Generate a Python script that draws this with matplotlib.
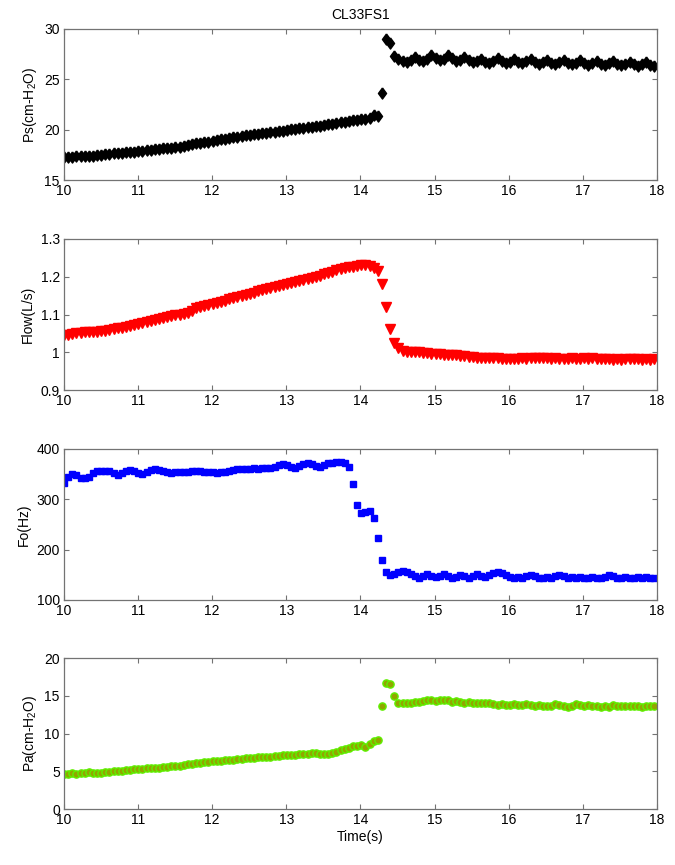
import numpy as np
from matplotlib import pyplot as plt

plt.rcParams['font.family'] = ['Liberation Sans', 'DejaVu Sans']
plt.rcParams['mathtext.default'] = 'regular'

# sampled signals, ~18 samples per second starting at 10 s
dt = 0.0557

ps = [17.3, 17.3, 17.3, 17.35, 17.35, 17.4, 17.4, 17.4, 17.45, 17.5,
      17.55, 17.6, 17.65, 17.7, 17.7, 17.75, 17.8, 17.8, 17.85, 17.9,
      17.95, 18.0, 18.05, 18.1, 18.15, 18.2, 18.2, 18.25, 18.3, 18.4,
      18.5, 18.6, 18.65, 18.7, 18.75, 18.8, 18.9, 19.0, 19.05, 19.1,
      19.2, 19.25, 19.3, 19.4, 19.45, 19.5, 19.55, 19.6, 19.65, 19.7,
      19.75, 19.8, 19.85, 19.9, 20.0, 20.05, 20.1, 20.15, 20.2, 20.25,
      20.3, 20.35, 20.4, 20.5, 20.55, 20.6, 20.7, 20.75, 20.8, 20.9,
      20.95, 21.0, 21.05, 21.1, 21.2, 21.45, 21.35, 23.6, 29.0, 28.6,
      27.3, 27.0, 26.8, 26.7, 26.9, 27.2, 26.9, 26.8, 27.0, 27.4,
      27.1, 26.9, 27.0, 27.4, 27.1, 26.8, 26.9, 27.2, 26.9, 26.7,
      26.8, 27.0, 26.7, 26.6, 26.8, 27.1, 26.8, 26.6, 26.7, 27.0,
      26.7, 26.6, 26.8, 27.0, 26.7, 26.5, 26.7, 26.9, 26.6, 26.5,
      26.7, 26.9, 26.6, 26.5, 26.6, 26.9, 26.6, 26.4, 26.6, 26.8,
      26.5, 26.4, 26.6, 26.8, 26.5, 26.4, 26.5, 26.7, 26.5, 26.3,
      26.5, 26.7, 26.4, 26.3]

flow = [1.045, 1.047, 1.049, 1.050, 1.052, 1.053, 1.054, 1.054, 1.055, 1.056,
        1.057, 1.059, 1.061, 1.063, 1.065, 1.067, 1.069, 1.071, 1.074, 1.077,
        1.079, 1.082, 1.085, 1.088, 1.090, 1.093, 1.096, 1.098, 1.100, 1.102,
        1.105, 1.110, 1.116, 1.120, 1.123, 1.126, 1.128, 1.131, 1.134, 1.137,
        1.140, 1.143, 1.146, 1.149, 1.152, 1.155, 1.158, 1.161, 1.164, 1.167,
        1.170, 1.173, 1.176, 1.178, 1.180, 1.183, 1.186, 1.189, 1.191, 1.194,
        1.197, 1.200, 1.203, 1.206, 1.209, 1.213, 1.217, 1.221, 1.224, 1.225,
        1.226, 1.228, 1.232, 1.232, 1.229, 1.222, 1.215, 1.180, 1.120, 1.062,
        1.025, 1.010, 1.003, 1.001, 1.000, 1.002, 1.000, 0.999, 0.998, 0.996,
        0.995, 0.995, 0.994, 0.993, 0.992, 0.992, 0.991, 0.990, 0.988, 0.987,
        0.986, 0.986, 0.985, 0.986, 0.985, 0.984, 0.983, 0.983, 0.982, 0.983,
        0.983, 0.984, 0.983, 0.984, 0.985, 0.984, 0.985, 0.984, 0.983, 0.984,
        0.983, 0.982, 0.983, 0.984, 0.983, 0.982, 0.984, 0.983, 0.984, 0.983,
        0.982, 0.983, 0.981, 0.980, 0.981, 0.980, 0.982, 0.981, 0.982, 0.981,
        0.980, 0.982, 0.979, 0.981]

fo = [333, 345, 350, 348, 343, 342, 345, 352, 356, 357,
      357, 356, 352, 349, 353, 357, 358, 356, 352, 350,
      354, 358, 360, 359, 356, 354, 353, 354, 355, 354,
      355, 356, 357, 356, 355, 354, 354, 353, 354, 355,
      356, 358, 360, 360, 361, 361, 362, 361, 362, 363,
      362, 364, 368, 370, 368, 364, 362, 366, 370, 372,
      370, 366, 364, 368, 372, 373, 374, 374, 373, 365,
      330, 288, 272, 274, 276, 263, 224, 180, 156, 150,
      152, 155, 157, 156, 152, 147, 144, 147, 151, 148,
      145, 148, 151, 148, 144, 146, 150, 147, 144, 147,
      151, 148, 145, 150, 154, 155, 154, 150, 145, 144,
      145, 144, 147, 150, 147, 144, 144, 145, 144, 147,
      150, 147, 144, 145, 144, 145, 144, 144, 145, 144,
      144, 146, 150, 147, 144, 144, 145, 144, 144, 145,
      144, 145, 144, 144]

pa = [4.7, 4.7, 4.75, 4.7, 4.75, 4.8, 4.85, 4.8, 4.75, 4.8,
      4.85, 4.9, 5.0, 5.05, 5.1, 5.15, 5.2, 5.25, 5.3, 5.35,
      5.4, 5.45, 5.5, 5.45, 5.55, 5.6, 5.65, 5.7, 5.75, 5.8,
      5.9, 6.0, 6.05, 6.1, 6.2, 6.25, 6.3, 6.3, 6.4, 6.45,
      6.5, 6.55, 6.6, 6.65, 6.7, 6.75, 6.8, 6.85, 6.9, 6.9,
      6.95, 7.0, 7.05, 7.1, 7.2, 7.15, 7.2, 7.25, 7.3, 7.3,
      7.4, 7.45, 7.35, 7.3, 7.3, 7.4, 7.6, 7.85, 8.0, 8.1,
      8.3, 8.4, 8.5, 8.2, 8.6, 9.0, 9.2, 13.7, 16.7, 16.6,
      15.0, 14.1, 14.1, 14.1, 14.0, 14.2, 14.2, 14.3, 14.4, 14.4,
      14.3, 14.4, 14.5, 14.4, 14.2, 14.3, 14.2, 14.1, 14.2, 14.1,
      14.0, 14.0, 14.1, 14.0, 13.9, 13.8, 13.9, 13.8, 13.8, 13.9,
      13.8, 13.8, 13.9, 13.8, 13.7, 13.8, 13.7, 13.6, 13.7, 13.9,
      13.8, 13.6, 13.5, 13.7, 13.9, 13.8, 13.7, 13.8, 13.7, 13.6,
      13.5, 13.6, 13.5, 13.8, 13.7, 13.6, 13.7, 13.6, 13.7, 13.6,
      13.5, 13.7, 13.6, 13.6]

t = 10 + dt * np.arange(len(ps))

# MATLAB-like diamond: a bit taller than wide
diamond = [(0, 1), (0.73, 0), (0, -1), (-0.73, 0), (0, 1)]

fig = plt.figure(figsize=(6.75, 8.65), dpi=100)

left, width, height = 0.0948, 0.8785, 0.1746
bottoms = [0.7919, 0.5491, 0.3064, 0.0647]

panels = [
    (ps, dict(marker=diamond, color='k', ms=8), (15, 30), [15, 20, 25, 30],
     'Ps(cm-H$_2$O)'),
    (flow, dict(marker='v', color='r', ms=6.5), (0.9, 1.3),
     [0.9, 1, 1.1, 1.2, 1.3], 'Flow(L/s)'),
    (fo, dict(marker='s', color='b', ms=4.2), (100, 400),
     [100, 200, 300, 400], 'Fo(Hz)'),
    (pa, dict(marker='o', mfc='#92a600', mec='#5ef000', mew=1.0, ms=5.2),
     (0, 20), [0, 5, 10, 15, 20], 'Pa(cm-H$_2$O)'),
]

for k, (y, style, ylim, yticks, ylab) in enumerate(panels):
    ax = fig.add_axes([left, bottoms[k], width, height])
    ax.plot(t, y, linestyle='none', **style)
    ax.set_xlim(10, 18)
    ax.set_ylim(*ylim)
    ax.set_xticks(range(10, 19))
    ax.set_yticks(yticks)
    ax.set_yticklabels([('%g' % v) for v in yticks])
    ax.tick_params(direction='in', top=True, right=True, length=3.5,
                   width=0.8, color='0.45', labelsize=10, pad=3)
    for s in ax.spines.values():
        s.set_color('0.45')
        s.set_linewidth(0.9)
    ax.set_ylabel(ylab, fontsize=10)
    if k == 0:
        ax.set_title('CL33FS1', fontsize=10, pad=7)
    if k == 3:
        ax.set_xlabel('Time(s)', fontsize=10, labelpad=2)

plt.savefig('out.png', dpi=100)
